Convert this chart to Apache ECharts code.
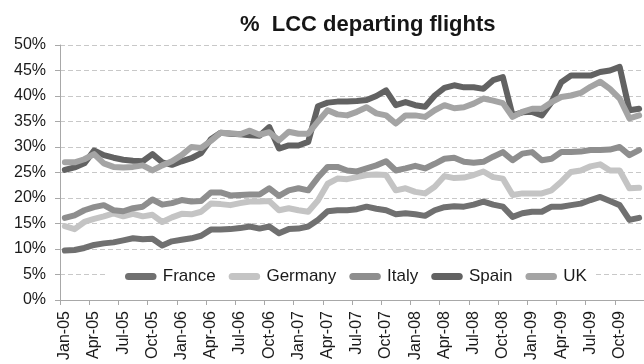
<!DOCTYPE html>
<html>
<head>
<meta charset="utf-8">
<script src="https://cdn.jsdelivr.net/npm/echarts@6/dist/echarts.min.js"></script>
<style>
  html, body { margin: 0; padding: 0; background: #fff; }
  #chart { width: 644px; height: 364px; }
</style>
</head>
<body>
<div id="chart"></div>
<script>
// Monthly share of departing flights operated by low-cost carriers (%)
const months = [
  'Jan-05','Feb-05','Mar-05','Apr-05','May-05','Jun-05','Jul-05','Aug-05','Sep-05','Oct-05','Nov-05','Dec-05',
  'Jan-06','Feb-06','Mar-06','Apr-06','May-06','Jun-06','Jul-06','Aug-06','Sep-06','Oct-06','Nov-06','Dec-06',
  'Jan-07','Feb-07','Mar-07','Apr-07','May-07','Jun-07','Jul-07','Aug-07','Sep-07','Oct-07','Nov-07','Dec-07',
  'Jan-08','Feb-08','Mar-08','Apr-08','May-08','Jun-08','Jul-08','Aug-08','Sep-08','Oct-08','Nov-08','Dec-08',
  'Jan-09','Feb-09','Mar-09','Apr-09','May-09','Jun-09','Jul-09','Aug-09','Sep-09','Oct-09','Nov-09','Dec-09'
];

const france = [
  9.7, 9.8, 10.2, 10.8, 11.1, 11.3, 11.7, 12.1, 11.9, 12.0, 10.7, 11.5,
  11.8, 12.1, 12.6, 13.8, 13.8, 13.9, 14.1, 14.4, 14.0, 14.4, 13.1, 13.9,
  14.0, 14.4, 15.7, 17.4, 17.6, 17.6, 17.8, 18.3, 17.9, 17.6, 16.8, 17.0,
  16.8, 16.5, 17.6, 18.2, 18.4, 18.3, 18.7, 19.3, 18.7, 18.3, 16.3, 17.0,
  17.3, 17.3, 18.3, 18.3, 18.6, 18.9, 19.6, 20.2, 19.4, 18.6, 15.7, 16.1
];
const germany = [
  14.5, 13.9, 15.3, 15.9, 16.4, 17.0, 16.4, 16.9, 16.4, 16.7, 15.3, 16.2,
  16.9, 16.8, 17.3, 18.9, 18.8, 18.6, 19.0, 19.3, 19.3, 19.4, 17.6, 18.0,
  17.6, 17.3, 19.5, 22.8, 23.8, 23.7, 24.1, 24.5, 24.6, 24.5, 21.5, 21.9,
  21.2, 20.9, 22.2, 24.3, 23.9, 24.0, 24.5, 25.2, 24.1, 23.8, 20.6, 20.9,
  20.9, 20.9, 21.5, 23.2, 25.1, 25.4, 26.2, 26.6, 25.4, 25.4, 21.9, 22.0
];
const italy = [
  16.1, 16.6, 17.6, 18.2, 18.6, 17.6, 17.4, 18.0, 18.3, 19.7, 18.7, 19.0,
  19.6, 19.3, 19.4, 21.1, 21.1, 20.5, 20.6, 20.7, 20.7, 21.9, 20.4, 21.5,
  21.9, 21.5, 24.0, 26.1, 26.1, 25.4, 25.2, 25.8, 26.4, 27.2, 25.4, 25.8,
  26.3, 25.8, 26.7, 27.7, 27.9, 27.1, 26.9, 27.1, 28.1, 29.0, 27.4, 28.7,
  29.0, 27.4, 27.7, 29.0, 29.0, 29.1, 29.4, 29.4, 29.5, 30.0, 28.4, 29.4
];
const spain = [
  25.5, 26.0, 26.8, 29.3, 28.4, 27.9, 27.5, 27.3, 27.2, 28.6, 27.0, 26.5,
  27.2, 27.8, 28.8, 31.5, 32.8, 32.6, 32.5, 32.3, 32.2, 33.9, 29.7, 30.3,
  30.3, 31.0, 38.0, 38.7, 38.9, 38.9, 39.0, 39.2, 40.0, 41.1, 38.2, 38.8,
  38.2, 37.9, 40.1, 41.6, 42.1, 41.7, 41.7, 41.4, 43.1, 43.7, 36.2, 36.8,
  36.9, 36.2, 38.8, 42.7, 44.0, 44.0, 44.0, 44.7, 45.0, 45.7, 37.2, 37.5
];
const uk = [
  27.0, 27.0, 27.6, 28.6, 26.8, 26.1, 26.0, 26.1, 26.4, 25.4, 26.4, 27.2,
  28.4, 30.0, 29.8, 31.2, 32.8, 32.7, 32.5, 33.2, 32.4, 32.9, 31.3, 33.0,
  32.6, 32.6, 35.0, 37.2, 36.4, 36.2, 36.9, 37.8, 36.6, 36.2, 34.6, 36.2,
  36.2, 35.9, 37.2, 38.2, 37.6, 37.8, 38.5, 39.5, 39.1, 38.6, 35.9, 36.9,
  37.5, 37.5, 38.8, 39.8, 40.1, 40.6, 41.8, 42.8, 41.4, 39.5, 35.6, 36.2
];

const seriesNames = ['France', 'Germany', 'Italy', 'Spain', 'UK'];
const seriesData = [france, germany, italy, spain, uk];
const seriesColors = ['#707070', '#c4c4c4', '#8e8e8e', '#626262', '#a4a4a4'];

const FONT = '"Liberation Sans", Arial, Helvetica, sans-serif';
const chart = echarts.init(document.getElementById('chart'), null, { renderer: 'canvas' });

chart.setOption({
  animation: false,
  backgroundColor: '#ffffff',
  title: {
    text: '%  LCC departing flights',
    left: 235,
    top: 9,
    textStyle: { fontFamily: FONT, fontSize: 22, fontWeight: 'bold', color: '#161616' }
  },
  legend: {
    data: seriesNames,
    orient: 'horizontal',
    left: 108,
    top: 263,
    padding: [5, 9, 5, 17],
    itemGap: 13,
    itemWidth: 34,
    itemHeight: 7,
    backgroundColor: '#ffffff',
    icon: 'path://M4,0 L32,0 A4,4 0 0 1 32,8 L4,8 A4,4 0 0 1 4,0 Z',
    textStyle: { fontFamily: FONT, fontSize: 17, color: '#1a1a1a' }
  },
  grid: { left: 60, top: 45, width: 586, height: 255, containLabel: false },
  xAxis: {
    type: 'category',
    data: months,
    boundaryGap: true,
    axisLine: { show: true, lineStyle: { color: '#a8a8a8', width: 1 } },
    axisTick: { show: true, interval: 2, length: 5, lineStyle: { color: '#a8a8a8' } },
    axisLabel: {
      interval: 2,
      rotate: 90,
      margin: 11,
      fontFamily: FONT,
      fontSize: 16,
      color: '#1a1a1a'
    },
    splitLine: { show: false }
  },
  yAxis: {
    type: 'value',
    min: 0,
    max: 50,
    interval: 5,
    axisLine: { show: true, lineStyle: { color: '#a8a8a8', width: 1 } },
    axisTick: { show: true, length: 5, lineStyle: { color: '#a8a8a8' } },
    axisLabel: {
      formatter: '{value}%',
      margin: 14,
      fontFamily: FONT,
      fontSize: 16,
      color: '#1a1a1a'
    },
    splitLine: { show: true, lineStyle: { color: '#c8c8c8', width: 1, type: [5, 3] } }
  },
  series: seriesNames.map((name, idx) => ({
    name: name,
    type: 'line',
    data: seriesData[idx],
    symbol: 'none',
    smooth: false,
    color: seriesColors[idx],
    lineStyle: { width: 6, color: seriesColors[idx], cap: 'round', join: 'round' },
    emphasis: { disabled: true },
    z: 2 + idx
  }))
});
</script>
</body>
</html>
